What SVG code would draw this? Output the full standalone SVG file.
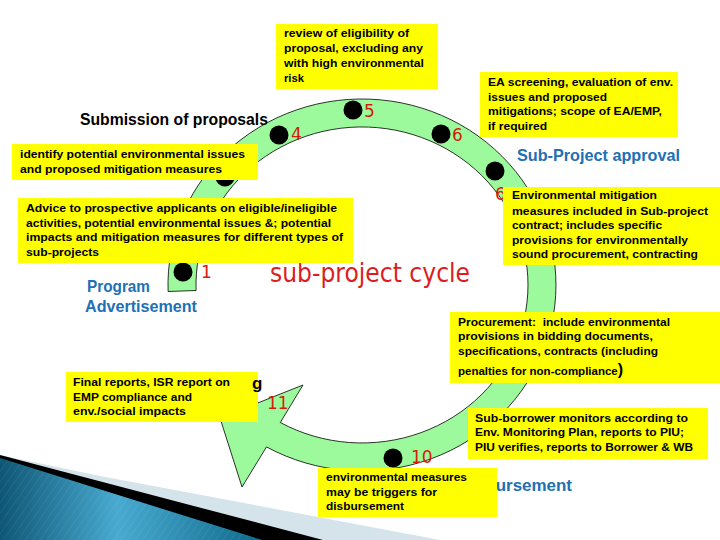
<svg xmlns="http://www.w3.org/2000/svg" width="720" height="540" viewBox="0 0 720 540">
<defs>
<linearGradient id="blueg" x1="0" y1="0" x2="1" y2="0">
<stop offset="0" stop-color="#0E5675"/>
<stop offset="0.45" stop-color="#48AAD0"/>
<stop offset="1" stop-color="#0F6A8B"/>
</linearGradient>
<pattern id="hatch" width="6" height="6" patternUnits="userSpaceOnUse" patternTransform="rotate(35)">
<line x1="0" y1="0" x2="0" y2="6" stroke="#FFFFFF" stroke-opacity="0.12" stroke-width="1"/>
</pattern>
</defs>
<style>
.box{fill:#FFFF00;}
.bt{font-family:"Liberation Sans",Arial,sans-serif;font-weight:bold;font-size:11.5px;fill:#000;}
.lbl{font-family:"Liberation Sans",Arial,sans-serif;font-weight:bold;font-size:17px;}
.blue{fill:#2170B4;}
.num{font-family:"DejaVu Sans",sans-serif;font-size:17px;fill:#D81A08;}
.dot{fill:#000;}
.band{fill:#9CFA9C;stroke:#000;stroke-width:0.8;}
</style>
<rect width="720" height="540" fill="#FFFFFF"/>
<g id="decoration">
<polygon points="0,455 100,476 440,540 0,540" fill="#D5E3EA"/>
<polygon points="0,455 323,540 0,540" fill="#000000"/>
<polygon points="0,458 262,540 0,540" fill="url(#blueg)"/>
<polygon points="0,458 262,540 0,540" fill="url(#hatch)"/>
</g>
<g id="connectors">
<path class="band" d="M 168.1 291.5 A 194 186 0 1 1 266.5 446.9 L 242 487 L 220 418 L 303 385 L 280.3 422.5 A 166 158 0 1 0 196.1 290.5 Z"/>
</g>
<g id="steps">
<circle class="dot" cx="183" cy="272" r="9.5"/>
<text class="num" x="201" y="278">1</text>
<circle class="dot" cx="225" cy="177" r="9.5"/>
<circle class="dot" cx="279" cy="135" r="9.5"/>
<text class="num" x="291" y="140">4</text>
<circle class="dot" cx="353" cy="110" r="9.5"/>
<text class="num" x="364" y="117">5</text>
<circle class="dot" cx="441" cy="134" r="9.5"/>
<text class="num" x="452" y="141">6</text>
<circle class="dot" cx="495" cy="171" r="9.5"/>
<text class="num" x="495" y="200">6</text>
<circle class="dot" cx="393" cy="458" r="9.5"/>
<text class="num" x="411" y="463">10</text>
<text class="num" x="267" y="409">11</text>
</g>
<g id="title">
<text x="270" y="282" font-family="DejaVu Sans, sans-serif" font-size="26" fill="#DC1E1E" textLength="200" lengthAdjust="spacingAndGlyphs">sub-project cycle</text>
</g>
<g id="labels">
<text class="lbl" x="80" y="125" fill="#000" textLength="188" lengthAdjust="spacingAndGlyphs">Submission of proposals</text>
<text class="lbl blue" x="517" y="161" textLength="163" lengthAdjust="spacingAndGlyphs">Sub-Project approval</text>
<text class="lbl blue" x="87" y="292" textLength="63" lengthAdjust="spacingAndGlyphs">Program</text>
<text class="lbl blue" x="85" y="312" textLength="112" lengthAdjust="spacingAndGlyphs">Advertisement</text>
<text class="lbl blue" x="459" y="491" textLength="113" lengthAdjust="spacingAndGlyphs">Disbursement</text>
</g>
<g id="box-review">
<rect class="box" x="276" y="24" width="162" height="65"/>
<text class="bt" x="284" y="37" textLength="125" lengthAdjust="spacingAndGlyphs">review of eligibility of</text>
<text class="bt" x="284" y="52" textLength="139" lengthAdjust="spacingAndGlyphs">proposal, excluding any</text>
<text class="bt" x="284" y="67" textLength="140" lengthAdjust="spacingAndGlyphs">with high environmental</text>
<text class="bt" x="284" y="82" textLength="20" lengthAdjust="spacingAndGlyphs">risk</text>
</g>
<g id="box-ea">
<rect class="box" x="480" y="72" width="198" height="65"/>
<text class="bt" x="488" y="86" textLength="185" lengthAdjust="spacingAndGlyphs">EA screening, evaluation of env.</text>
<text class="bt" x="488" y="101" textLength="119" lengthAdjust="spacingAndGlyphs">issues and proposed</text>
<text class="bt" x="488" y="115" textLength="174" lengthAdjust="spacingAndGlyphs">mitigations; scope of EA/EMP,</text>
<text class="bt" x="488" y="130" textLength="59" lengthAdjust="spacingAndGlyphs">if required</text>
</g>
<g id="box-identify">
<rect class="box" x="12" y="144" width="246" height="36"/>
<text class="bt" x="20" y="158" textLength="225" lengthAdjust="spacingAndGlyphs">identify potential environmental issues</text>
<text class="bt" x="20" y="173" textLength="202" lengthAdjust="spacingAndGlyphs">and proposed mitigation measures</text>
</g>
<g id="box-advice">
<rect class="box" x="18" y="198" width="335" height="65"/>
<text class="bt" x="26" y="212" textLength="311" lengthAdjust="spacingAndGlyphs">Advice to prospective applicants on eligible/ineligible</text>
<text class="bt" x="26" y="227" textLength="305" lengthAdjust="spacingAndGlyphs">activities, potential environmental issues &amp;; potential</text>
<text class="bt" x="26" y="241" textLength="317" lengthAdjust="spacingAndGlyphs">impacts and mitigation measures for different types of</text>
<text class="bt" x="26" y="256" textLength="73" lengthAdjust="spacingAndGlyphs">sub-projects</text>
</g>
<g id="box-mitigation">
<rect class="box" x="503" y="187" width="217" height="78"/>
<text class="bt" x="512" y="199" textLength="145" lengthAdjust="spacingAndGlyphs">Environmental mitigation</text>
<text class="bt" x="512" y="215" textLength="196" lengthAdjust="spacingAndGlyphs">measures included in Sub-project</text>
<text class="bt" x="512" y="229" textLength="150" lengthAdjust="spacingAndGlyphs">contract; includes specific</text>
<text class="bt" x="512" y="244" textLength="176" lengthAdjust="spacingAndGlyphs">provisions for environmentally</text>
<text class="bt" x="512" y="258" textLength="186" lengthAdjust="spacingAndGlyphs">sound procurement, contracting</text>
</g>
<g id="box-procurement">
<rect class="box" x="450" y="312" width="270" height="71"/>
<text class="bt" x="458" y="326" textLength="212" lengthAdjust="spacingAndGlyphs">Procurement:&#160; include environmental</text>
<text class="bt" x="458" y="340" textLength="195" lengthAdjust="spacingAndGlyphs">provisions in bidding documents,</text>
<text class="bt" x="458" y="355" textLength="200" lengthAdjust="spacingAndGlyphs">specifications, contracts (including</text>
<text class="bt" x="458" y="375">penalties for non-compliance<tspan font-size="16">)</tspan></text>
</g>
<g id="box-monitor">
<rect class="box" x="468" y="408" width="240" height="51"/>
<text class="bt" x="475" y="422" textLength="213" lengthAdjust="spacingAndGlyphs">Sub-borrower monitors according to</text>
<text class="bt" x="475" y="436" textLength="209" lengthAdjust="spacingAndGlyphs">Env. Monitoring Plan, reports to PIU;</text>
<text class="bt" x="475" y="451" textLength="218" lengthAdjust="spacingAndGlyphs">PIU verifies, reports to Borrower &amp; WB</text>
</g>
<g id="box-disbursement">
<rect class="box" x="318" y="468" width="179" height="49"/>
<text class="bt" x="326" y="481" textLength="141" lengthAdjust="spacingAndGlyphs">environmental measures</text>
<text class="bt" x="326" y="496" textLength="111" lengthAdjust="spacingAndGlyphs">may be triggers for</text>
<text class="bt" x="326" y="510" textLength="78" lengthAdjust="spacingAndGlyphs">disbursement</text>
</g>
<g id="box-final">
<rect class="box" x="66" y="372" width="192" height="50"/>
<text class="bt" x="73" y="386" textLength="157" lengthAdjust="spacingAndGlyphs">Final reports, ISR report on</text>
<text class="bt" x="73" y="401" textLength="119" lengthAdjust="spacingAndGlyphs">EMP compliance and</text>
<text class="bt" x="73" y="415" textLength="113" lengthAdjust="spacingAndGlyphs">env./social impacts</text>
<text class="lbl" x="252" y="389" fill="#000">g</text>
</g>
</svg>
